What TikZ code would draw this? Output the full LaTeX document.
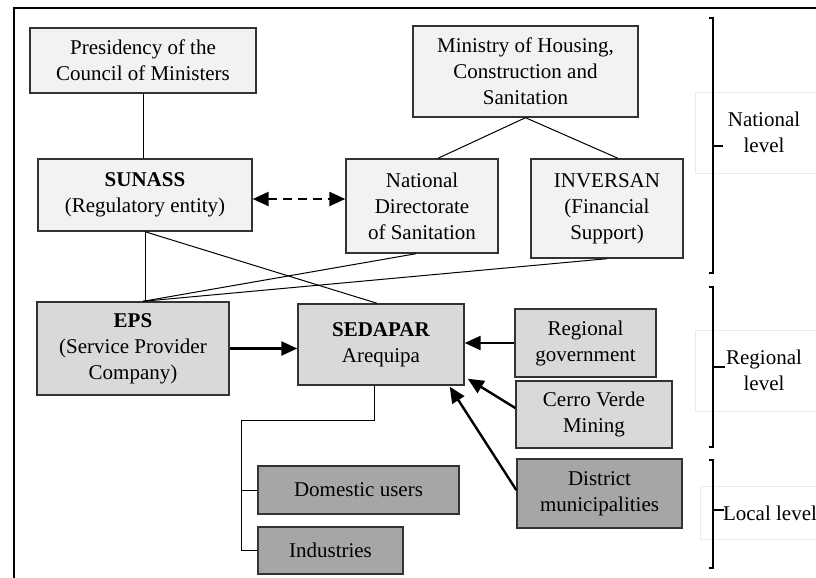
\documentclass[tikz,border=0pt]{standalone}
\usepackage{fontspec}
\setmainfont{Liberation Serif}
\usetikzlibrary{arrows.meta,positioning,calc}

\definecolor{boxlight}{HTML}{F2F2F2}
\definecolor{boxmid}{HTML}{D9D9D9}
\definecolor{boxdark}{HTML}{A6A6A6}

\begin{document}
\begin{tikzpicture}[x=0.5pt, y=-0.5pt,
    box/.style={draw=black!80, line width=0.7pt, rectangle, align=center, inner sep=2pt, font=\fontsize{10.5}{13}\selectfont},
    natbox/.style={box, fill=boxlight},
    regbox/.style={box, fill=boxmid},
    locbox/.style={box, fill=boxdark},
    conn/.style={line width=0.5pt},
    arrow/.style={-{Triangle[length=8pt,width=7pt]}, line width=1.2pt},
    twoway/.style={{Triangle[length=8pt,width=7pt]}-{Triangle[length=8pt,width=7pt]}, line width=1.2pt, dash pattern=on 4.5pt off 3pt},
    levellabel/.style={draw=black!8, line width=0.4pt, align=center, font=\fontsize{10.5}{13}\selectfont},
    bracket/.style={line width=0.6pt}
]
\clip (0,0) rectangle (816,578);

% Frame
\draw[line width=1pt] (14,8) rectangle (850,610);

% National level
\node[natbox, minimum width=113pt, minimum height=32.5pt] (pcm) at (143,60.5) {Presidency of the\\Council of Ministers};
\node[natbox, minimum width=112.5pt, minimum height=45.5pt] (ministry) at (525.5,71.5) {Ministry of Housing,\\Construction and\\Sanitation};
\node[natbox, minimum width=107pt, minimum height=36pt] (sunass) at (145,195) {\textbf{SUNASS}\\(Regulatory entity)};
\node[natbox, minimum width=76pt, minimum height=47pt] (dns) at (422,206) {National\\Directorate\\of Sanitation};
\node[natbox, minimum width=76pt, minimum height=49.5pt] (inversan) at (607,208.5) {INVERSAN\\(Financial\\Support)};

% Regional level
\node[regbox, minimum width=96pt, minimum height=46.5pt] (eps) at (133,348.5) {\textbf{EPS}\\(Service Provider\\Company)};
\node[regbox, minimum width=83pt, minimum height=40.5pt] (sedapar) at (381,344.5) {\textbf{SEDAPAR}\\Arequipa};
\node[regbox, minimum width=70.5pt, minimum height=34pt] (regov) at (585.5,343) {Regional\\government};
\node[regbox, minimum width=78pt, minimum height=33.5pt] (cerro) at (594,414.5) {Cerro Verde\\Mining};

% Local level
\node[locbox, minimum width=82.5pt, minimum height=34.5pt] (district) at (599.5,493.5) {District\\municipalities};
\node[locbox, minimum width=100.5pt, minimum height=24pt] (domestic) at (358.5,490) {Domestic users};
\node[locbox, minimum width=72.5pt, minimum height=23.5pt] (industries) at (330.5,550.5) {Industries};

% Lines
\draw[conn] (pcm.south) -- (pcm.south |- sunass.north);
\draw[conn] (ministry.south) -- ([xshift=8pt]dns.north);
\draw[conn] (ministry.south) -- ([xshift=5.5pt]inversan.north);
\draw[conn] (sunass.south) -- (sunass.south |- eps.north);
\draw[conn] (sunass.south) -- ([xshift=-2pt]sedapar.north);
\draw[conn] ([xshift=-3pt]dns.south) -- ([xshift=5pt]eps.north);
\draw[conn] (inversan.south) -- ([xshift=5pt]eps.north);

% Arrows
\draw[twoway] ([yshift=-2pt]sunass.east) -- ([yshift=-2pt]sunass.east -| dns.west);
\draw[arrow] (eps.east) -- (eps.east -| sedapar.west);
\draw[arrow] (regov.west) -- (regov.west -| sedapar.east);
\draw[arrow] ([yshift=3.25pt]cerro.west) -- ([xshift=1.5pt,yshift=3.5pt]sedapar.south east);
\draw[arrow] ([yshift=1.75pt]district.west) -- ([xshift=-7.5pt,yshift=-0.5pt]sedapar.south east);

% Users
\coordinate (split) at (241,420);
\draw[conn] ([xshift=-3.5pt]sedapar.south) |- (split) -- (split |- industries.west) -- (industries.west);
\draw[conn] (split |- domestic.west) -- (domestic.west);

% Levels
\node[levellabel, minimum width=69pt, minimum height=40.5pt] (natlbl) at (764,132.5) {National\\level};
\node[levellabel, minimum width=69pt, minimum height=40.5pt] (reglbl) at (764,370.5) {Regional\\level};
\node[levellabel, minimum width=70pt, minimum height=26.5pt] (loclbl) at (770,513) {Local level};

\draw[bracket] (709,18) -- (713,18) -- (713,273) -- (709,273) (713,146) -- (723,146);
\draw[bracket] (709,287) -- (713,287) -- (713,447) -- (709,447) (713,367) -- (725,367);
\draw[bracket] (709,460) -- (713,460) -- (713,568) -- (709,568) (713,510) -- (724,510);

\end{tikzpicture}
\end{document}
